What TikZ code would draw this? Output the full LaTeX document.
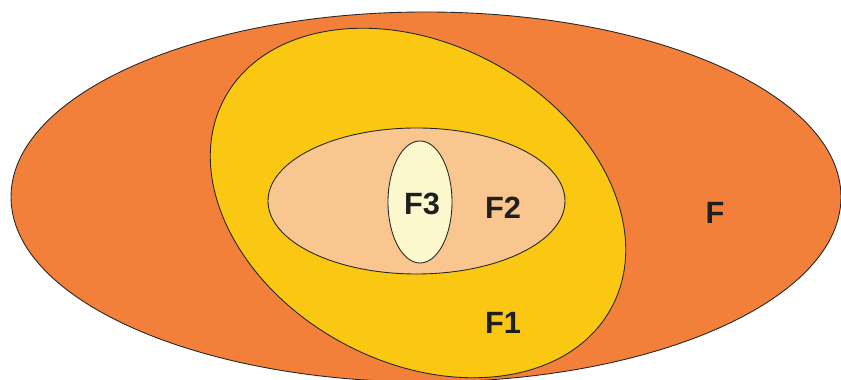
\documentclass[tikz,border=0pt]{standalone}
\usepackage{fontspec}
\setmainfont{Liberation Sans}
\usepackage{tikz}
\usetikzlibrary{positioning}

\definecolor{setF}{RGB}{243,128,58}
\definecolor{setFone}{RGB}{250,199,18}
\definecolor{setFtwo}{RGB}{249,198,143}
\definecolor{setFthree}{RGB}{250,248,204}

\tikzset{
  setline/.style={draw=black!85,line width=0.5pt},
  setlabel/.style={font=\fontsize{17.5}{20}\selectfont\bfseries,text=black!88,inner sep=0pt}
}

\begin{document}
\begin{tikzpicture}
  \useasboundingbox (0,0) rectangle (16.82,7.6);
  % --- nested sets
  \filldraw[setline,fill=setF] (8.52,3.66) ellipse [x radius=8.30cm,y radius=3.70cm];
  \filldraw[setline,fill=setFone,rotate around={-28.5:(8.36,3.54)}] (8.36,3.54) ellipse [x radius=4.40cm,y radius=3.18cm];
  \filldraw[setline,fill=setFtwo] (8.33,3.58) ellipse [x radius=2.97cm,y radius=1.46cm];
  \filldraw[setline,fill=setFthree] (8.40,3.56) ellipse [x radius=0.64cm,y radius=1.22cm];
  % --- labels
  \node[setlabel] (lF) at (14.30,3.34) {F};
  \node[setlabel] (lFone) at (10.06,1.14) {F1};
  \node[setlabel] (lFtwo) at (10.06,3.44) {F2};
  \node[setlabel] (lFthree) at (8.44,3.52) {F3};
\end{tikzpicture}
\end{document}
